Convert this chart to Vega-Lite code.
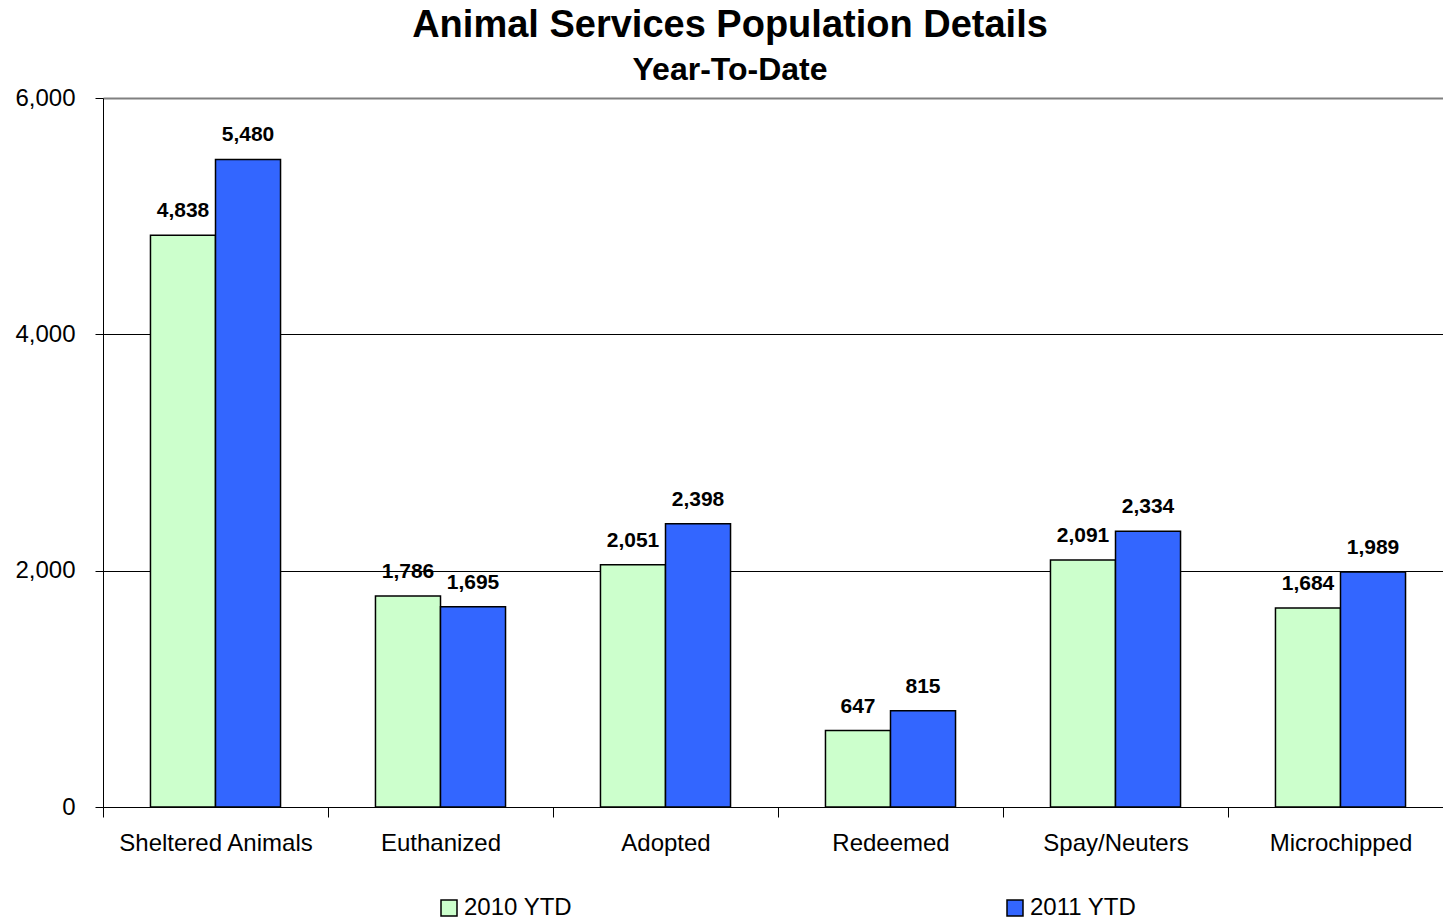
{
  "$schema": "https://vega.github.io/schema/vega-lite/v6.json",
  "width": 1350,
  "height": 709,
  "autosize": {"type": "none"},
  "padding": {"left": 103, "top": 98, "right": -10, "bottom": 115},
  "background": "white",
  "config": {
    "font": "Liberation Sans",
    "view": {"stroke": null},
    "axis": {"labelFont": "Liberation Sans", "labelColor": "black", "domainColor": "black", "tickColor": "black"}
  },
  "title": {
    "text": "Animal Services Population Details",
    "subtitle": "Year-To-Date",
    "font": "Liberation Sans",
    "fontSize": 38,
    "fontWeight": "bold",
    "subtitleFont": "Liberation Sans",
    "subtitleFontSize": 32,
    "subtitleFontWeight": "bold",
    "subtitleColor": "black",
    "color": "black",
    "anchor": "middle",
    "dx": -48,
    "offset": 0,
    "subtitlePadding": 10
  },
  "data": {
    "values": [
      {"category": "Sheltered Animals", "year": "2010 YTD", "value": 4838},
      {"category": "Sheltered Animals", "year": "2011 YTD", "value": 5480},
      {"category": "Euthanized", "year": "2010 YTD", "value": 1786},
      {"category": "Euthanized", "year": "2011 YTD", "value": 1695},
      {"category": "Adopted", "year": "2010 YTD", "value": 2051},
      {"category": "Adopted", "year": "2011 YTD", "value": 2398},
      {"category": "Redeemed", "year": "2010 YTD", "value": 647},
      {"category": "Redeemed", "year": "2011 YTD", "value": 815},
      {"category": "Spay/Neuters", "year": "2010 YTD", "value": 2091},
      {"category": "Spay/Neuters", "year": "2011 YTD", "value": 2334},
      {"category": "Microchipped", "year": "2010 YTD", "value": 1684},
      {"category": "Microchipped", "year": "2011 YTD", "value": 1989}
    ]
  },
  "encoding": {
    "x": {
      "field": "category",
      "type": "nominal",
      "sort": null,
      "scale": {"paddingInner": 0, "paddingOuter": 0},
      "axis": {
        "title": null,
        "labelAngle": 0,
        "labelFontSize": 24,
        "labelLimit": 400,
        "tickBand": "extent",
        "tickSize": 10,
        "labelPadding": 14,
        "domainWidth": 1,
        "grid": false
      }
    },
    "xOffset": {
      "field": "year",
      "type": "nominal",
      "scale": {"paddingInner": 0, "paddingOuter": 0.73}
    },
    "y": {
      "field": "value",
      "type": "quantitative",
      "scale": {"domain": [0, 6000], "nice": false},
      "axis": {
        "title": null,
        "values": [0, 2000, 4000, 6000],
        "format": ",d",
        "labelFontSize": 24,
        "tickSize": 8,
        "labelPadding": 20,
        "grid": true,
        "gridColor": {"condition": {"test": "datum.value === 6000", "value": "#808080"}, "value": "black"},
        "gridWidth": {"condition": {"test": "datum.value === 6000", "value": 2}, "value": 1},
        "gridOpacity": 1
      }
    }
  },
  "layer": [
    {
      "mark": {"type": "bar", "stroke": "black", "strokeWidth": 1.5},
      "encoding": {
        "fill": {
          "field": "year",
          "type": "nominal",
          "scale": {"domain": ["2010 YTD", "2011 YTD"], "range": ["#CCFFCC", "#3366FF"]},
          "legend": {
            "title": null,
            "orient": "none",
            "direction": "horizontal",
            "legendX": 334,
            "legendY": 798,
            "symbolType": "square",
            "symbolSize": 256,
            "symbolStrokeColor": "black",
            "symbolStrokeWidth": 1.5,
            "labelFontSize": 24,
            "labelColor": "black",
            "labelFont": "Liberation Sans",
            "labelLimit": 300,
            "labelOffset": 3,
            "columnPadding": 430,
            "padding": 0
          }
        }
      }
    },
    {
      "mark": {"type": "text", "fontWeight": "bold", "fontSize": 21, "baseline": "alphabetic", "dy": -18, "color": "black"},
      "encoding": {
        "text": {"field": "value", "type": "quantitative", "format": ",d"}
      }
    }
  ]
}
